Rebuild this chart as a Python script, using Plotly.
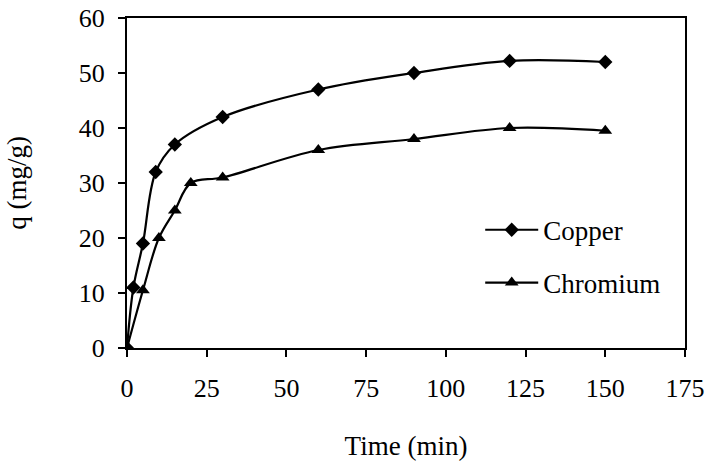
import plotly.graph_objects as go

# Data
time_copper = [0, 2, 5, 9, 15, 30, 60, 90, 120, 150]
q_copper = [0, 11, 19, 32, 37, 42, 47, 50, 52.2, 52]
time_chromium = [0, 5, 10, 15, 20, 30, 60, 90, 120, 150]
q_chromium = [0, 10.5, 20, 25, 30, 31, 36, 38, 40, 39.5]

x_ticks = [0, 25, 50, 75, 100, 125, 150, 175]
y_ticks = [0, 10, 20, 30, 40, 50, 60]

FONT = "Liberation Serif, Times New Roman, serif"

fig = go.Figure()
fig.add_trace(go.Scatter(
    x=time_copper, y=q_copper, name="Copper", mode="lines+markers",
    line=dict(color="black", width=2.2, shape="spline", smoothing=1),
    marker=dict(symbol="diamond", size=11, color="black"),
    legend="legend", showlegend=True,
))
fig.add_trace(go.Scatter(
    x=time_chromium, y=q_chromium, name="Chromium", mode="lines+markers",
    line=dict(color="black", width=2.2, shape="spline", smoothing=1),
    marker=dict(symbol="triangle-up", size=12, color="black"),
    legend="legend2", showlegend=True,
))

axis_common = dict(
    showline=True, linecolor="black", linewidth=2, mirror=True,
    showgrid=False, zeroline=False, automargin=False,
    ticks="outside", ticklen=7, tickwidth=2, tickcolor="black",
    tickfont=dict(family=FONT, size=26, color="black"),
)

fig.update_layout(
    width=705, height=461,
    margin=dict(l=127, r=20, t=18, b=113),
    paper_bgcolor="white", plot_bgcolor="white",
    font=dict(family=FONT, color="black"),
    showlegend=True,
    xaxis=dict(
        range=[0, 175], tickvals=x_ticks, ticktext=[str(v) for v in x_ticks],
        title=dict(text="Time (min)", font=dict(family=FONT, size=27), standoff=49),
        ticklabelstandoff=9,
        **axis_common,
    ),
    yaxis=dict(
        range=[0, 60], tickvals=y_ticks, ticktext=[str(v) for v in y_ticks],
        title=dict(text="q (mg/g)", font=dict(family=FONT, size=27), standoff=44),
        ticklabelstandoff=8,
        **axis_common,
    ),
    legend=dict(
        x=0.633, y=0.357, xanchor="left", yanchor="middle",
        bgcolor="rgba(0,0,0,0)", font=dict(family=FONT, size=27),
        itemwidth=53,
    ),
    legend2=dict(
        x=0.633, y=0.197, xanchor="left", yanchor="middle",
        bgcolor="rgba(0,0,0,0)", font=dict(family=FONT, size=27),
        itemwidth=53,
    ),
)

fig.write_html(
    "out.html",
    config={"displayModeBar": False},
    post_script="document.body.style.margin='0';",
)
